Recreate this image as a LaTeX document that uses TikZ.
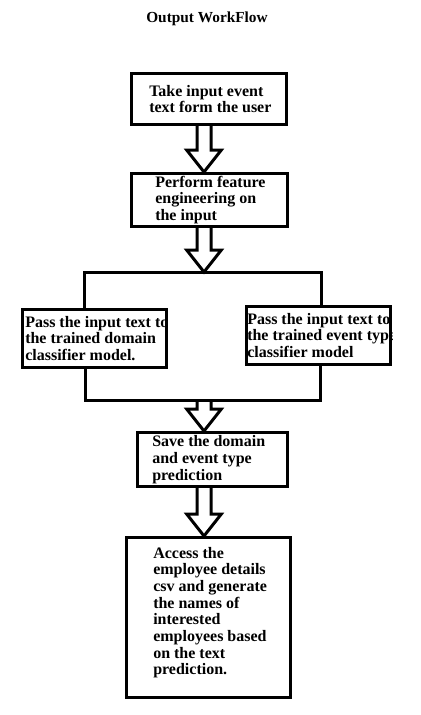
\documentclass[tikz,border=0pt]{standalone}
\usepackage{fontspec}
\setmainfont{Liberation Serif}
\usetikzlibrary{calc,positioning}

% hollow block arrow going straight down from #1 to the level of #2
\newcommand\fatarrow[2]{%
  \draw[fat] let \p1=(#1), \p2=(#2) in
    (\x1-5.25pt,\y1) -- (\x1-5.25pt,\y2+16.5pt) -- (\x1-13pt,\y2+16.5pt)
    -- (\x1,\y2) -- (\x1+13pt,\y2+16.5pt) -- (\x1+5.25pt,\y2+16.5pt) -- (\x1+5.25pt,\y1);}

\begin{document}
\begin{tikzpicture} [
        x=0.75pt, y=-0.75pt,
        every node/.style={font=\fontsize{12}{12.5}\selectfont\bfseries},
        stage/.style 2 args={draw,line width=2.25pt,anchor=north west,inner sep=0pt,
            minimum width=#1,minimum height=#2},
        txt/.style={inner sep=0pt,align=left},
        wire/.style={line width=2.25pt},
        fat/.style={line width=2.25pt,line join=miter}
    ]
    \useasboundingbox (0,0) rectangle (421,715);

    \node (title) at (207,19) [font=\fontsize{11.5}{12}\selectfont\bfseries] {Output WorkFlow};

    % boxes
    \node at (130,72) [stage={116.25pt}{38.25pt}] (input) {};
    \node at (130,172) [stage={117pt}{39.75pt}] (feature) {};
    \node at (21,308) [stage={108pt}{43.5pt}] (domain) {};
    \node at (245,305) [stage={108pt}{43.5pt}] (event) {};
    \node at (136,431) [stage={112.5pt}{40.5pt}] (save) {};
    \node at (125,536) [stage={123pt}{120pt}] (access) {};

    % texts
    \node [txt,right=14.25pt of input.west] (inputtxt) {Take input event \\ text form the user};
    \node [txt,right=18.75pt of feature.west] (featuretxt) {Perform feature \\ engineering on \\ the input};
    \node [txt,right=3pt of domain.west] (domaintxt) {Pass the input text to \\ the trained domain \\ classifier model.};
    \begin{scope}
        \clip (event.north west) rectangle (event.south east);
        \node [txt,right=1.5pt of event.west] (eventtxt) {Pass the input text to \\ the trained event type \\ classifier model};
    \end{scope}
    \node [txt,right=12pt of save.west] (savetxt) {Save the domain \\ and event type \\ prediction};
    \node [txt,right=21pt of access.west,yshift=3.75pt] (accesstxt) {
        Access the \\ employee details \\ csv and generate \\ the names of \\
        interested \\ employees based \\ on the text \\ prediction.
    };

    % split and merge lines
    \coordinate (axis) at (204,0);
    \coordinate (forkL) at (84,272);
    \coordinate (forkR) at (321,272);
    \coordinate (joinL) at (85,400);
    \coordinate (joinR) at (320,400);

    \draw[wire] (domain.north -| forkL) -- (forkL) -- (forkR) -- (event.north -| forkR);
    \draw[wire] (domain.south -| joinL) -- (joinL) -- (joinR) -- (event.south -| joinR);

    % block arrows
    \fatarrow{input.south -| axis}{feature.north -| axis}
    \fatarrow{feature.south -| axis}{forkL -| axis}
    \fatarrow{joinL -| axis}{save.north -| axis}
    \fatarrow{save.south -| axis}{access.north -| axis}
\end{tikzpicture}
\end{document}
